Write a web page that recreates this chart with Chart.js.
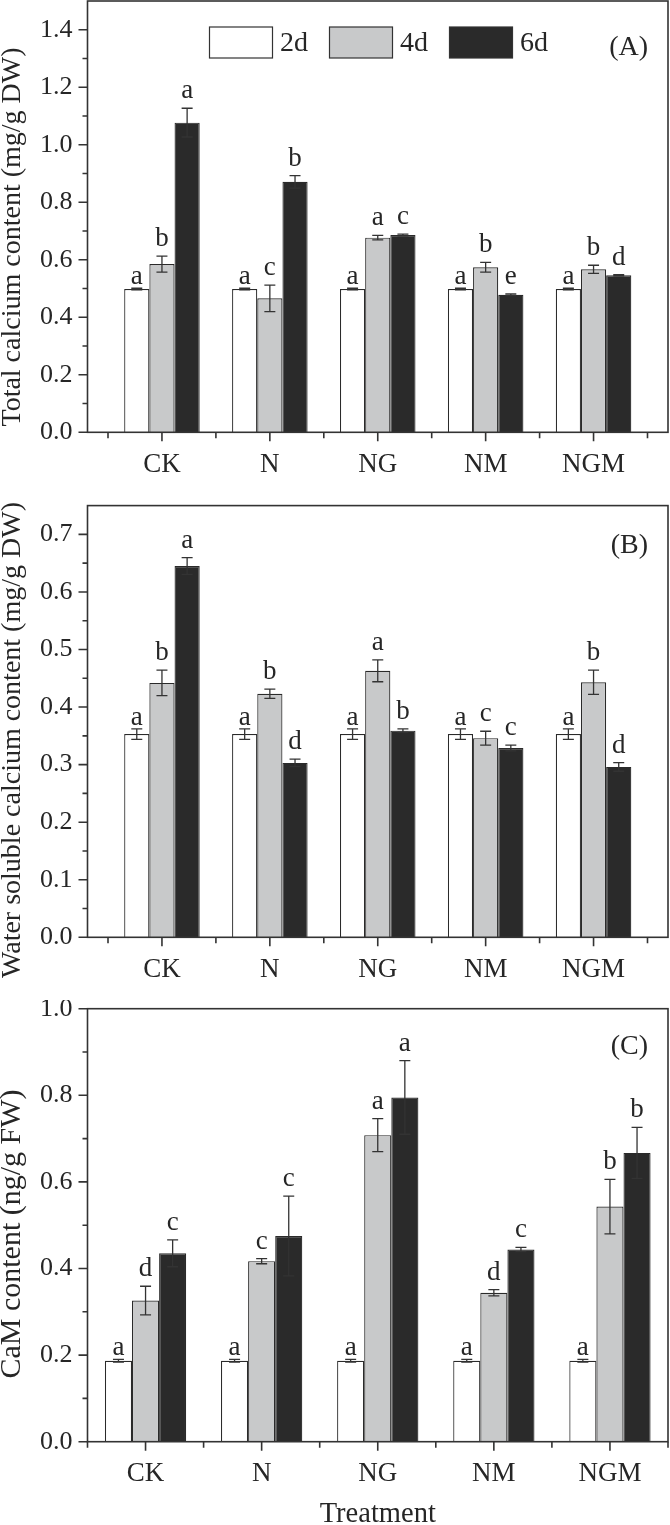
<!DOCTYPE html>
<html>
<head>
<meta charset="utf-8">
<script src="https://cdn.jsdelivr.net/npm/chart.js@4.4.1/dist/chart.umd.min.js"></script>
<style>
  body { margin: 0; background: #fff; width: 670px; height: 1525px; position: relative; overflow: hidden; }
  canvas { position: absolute; left: 0; }
</style>
</head>
<body>
<canvas id="chartA" width="670" height="500" style="top:0px"></canvas>
<canvas id="chartB" width="670" height="500" style="top:500px"></canvas>
<canvas id="chartC" width="670" height="525" style="top:1000px"></canvas>
<script>
// treatments and sampling days
const categories = ['CK', 'N', 'NG', 'NM', 'NGM'];
const seriesNames = ['2d', '4d', '6d'];

// (A) total calcium content, mg/g DW
const totalCa2d = [0.498, 0.498, 0.498, 0.498, 0.498];
const totalCa4d = [0.585, 0.466, 0.677, 0.574, 0.567];
const totalCa6d = [1.077, 0.871, 0.686, 0.478, 0.546];
const totalCaErr2d = [0.003, 0.003, 0.003, 0.003, 0.003];
const totalCaErr4d = [0.028, 0.046, 0.008, 0.017, 0.014];
const totalCaErr6d = [0.050, 0.022, 0.003, 0.003, 0.002];
const totalCaSig2d = ['a', 'a', 'a', 'a', 'a'];
const totalCaSig4d = ['b', 'c', 'a', 'b', 'b'];
const totalCaSig6d = ['a', 'b', 'c', 'e', 'd'];
const totalCaTicks = [0.0, 0.2, 0.4, 0.6, 0.8, 1.0, 1.2, 1.4];

// (B) water soluble calcium content, mg/g DW
const waterCa2d = [0.353, 0.353, 0.353, 0.353, 0.353];
const waterCa4d = [0.442, 0.423, 0.463, 0.346, 0.443];
const waterCa6d = [0.645, 0.303, 0.359, 0.329, 0.296];
const waterCaErr2d = [0.009, 0.009, 0.009, 0.009, 0.009];
const waterCaErr4d = [0.022, 0.008, 0.019, 0.012, 0.021];
const waterCaErr6d = [0.0145, 0.0065, 0.003, 0.005, 0.0075];
const waterCaSig2d = ['a', 'a', 'a', 'a', 'a'];
const waterCaSig4d = ['b', 'b', 'a', 'c', 'b'];
const waterCaSig6d = ['a', 'd', 'b', 'c', 'd'];
const waterCaTicks = [0.0, 0.1, 0.2, 0.3, 0.4, 0.5, 0.6, 0.7];

// (C) CaM content, ng/g FW
const cam2d = [0.187, 0.187, 0.187, 0.187, 0.187];
const cam4d = [0.326, 0.417, 0.708, 0.344, 0.543];
const cam6d = [0.435, 0.475, 0.795, 0.444, 0.667];
const camErr2d = [0.003, 0.003, 0.003, 0.003, 0.003];
const camErr4d = [0.033, 0.006, 0.038, 0.007, 0.063];
const camErr6d = [0.031, 0.092, 0.085, 0.005, 0.059];
const camSig2d = ['a', 'a', 'a', 'a', 'a'];
const camSig4d = ['d', 'c', 'a', 'd', 'b'];
const camSig6d = ['c', 'c', 'a', 'c', 'b'];
const camTicks = [0.0, 0.2, 0.4, 0.6, 0.8, 1.0];

const FONT = '"Liberation Serif", "Times New Roman", serif';
const INK = '#262626';
const barFills = ['#ffffff', '#c8c9ca', '#2a2a2a'];
const letterGap = [4, 10, 10];

// error bars + significance letters
const errorBars = {
  id: 'errorBars',
  afterDatasetsDraw(chart) {
    const ctx = chart.ctx, ys = chart.scales.y;
    chart.data.datasets.forEach((ds, di) => {
      chart.getDatasetMeta(di).data.forEach((bar, i) => {
        const v = ds.data[i].y, e = ds.errors[i];
        const top = ys.getPixelForValue(v + e), bot = ys.getPixelForValue(v - e);
        ctx.save();
        ctx.strokeStyle = '#333';
        ctx.lineWidth = 1.3;
        ctx.beginPath();
        ctx.moveTo(bar.x, top); ctx.lineTo(bar.x, bot);
        ctx.moveTo(bar.x - 5.5, top); ctx.lineTo(bar.x + 5.5, top);
        ctx.moveTo(bar.x - 5.5, bot); ctx.lineTo(bar.x + 5.5, bot);
        ctx.stroke();
        ctx.fillStyle = INK;
        ctx.font = '27px ' + FONT;
        ctx.textAlign = 'center';
        ctx.textBaseline = 'alphabetic';
        ctx.fillText(ds.letters[i], bar.x, top - letterGap[di]);
        ctx.restore();
      });
    });
  }
};

// frame, tick marks, y title, panel tag, legend
const frame = {
  id: 'frame',
  afterDraw(chart, args, opts) {
    const ctx = chart.ctx, a = chart.chartArea;
    const xs = chart.scales.x, ys = chart.scales.y;
    ctx.save();
    ctx.strokeStyle = '#333';
    ctx.lineWidth = 1.6;
    ctx.strokeRect(a.left, a.top, a.right - a.left, a.bottom - a.top);
    ctx.beginPath();
    ys.ticks.forEach(t => {
      const major = t.label !== '';
      if (!major && Math.abs(t.value - ys.max) < 1e-6) return;
      const py = ys.getPixelForValue(t.value);
      ctx.moveTo(a.left - (major ? 9 : 5), py); ctx.lineTo(a.left, py);
    });
    for (let i = 1; i <= categories.length; i++) {
      const px = xs.getPixelForValue(i);
      ctx.moveTo(px, a.bottom); ctx.lineTo(px, a.bottom + 9);
    }
    for (let i = 0; i <= categories.length; i++) {
      const v = i + 0.5;
      if (v < xs.min - 1e-6 || v > xs.max + 1e-6) continue;
      const px = xs.getPixelForValue(v);
      ctx.moveTo(px, a.bottom); ctx.lineTo(px, a.bottom + 6);
    }
    ctx.stroke();

    ctx.fillStyle = INK;
    // rotated y title
    ctx.save();
    ctx.translate(19.5, opts.titleMid);
    ctx.rotate(-Math.PI / 2);
    ctx.font = opts.titleSize + 'px ' + FONT;
    ctx.textAlign = 'center';
    ctx.textBaseline = 'alphabetic';
    ctx.fillText(opts.yTitle, 0, 0);
    ctx.restore();

    ctx.font = '28px ' + FONT;
    ctx.textAlign = 'right';
    ctx.textBaseline = 'alphabetic';
    ctx.fillText(opts.tag, a.right - 20, a.top + opts.tagDrop);

    if (opts.legend) {
      let lx = 209.5;
      const ly = 27, bw = 63, bh = 31;
      ctx.textAlign = 'left';
      ctx.textBaseline = 'middle';
      seriesNames.forEach((name, i) => {
        ctx.fillStyle = barFills[i];
        ctx.fillRect(lx, ly, bw, bh);
        ctx.lineWidth = 1.2;
        ctx.strokeRect(lx, ly, bw, bh);
        ctx.fillStyle = INK;
        ctx.fillText(name, lx + bw + 7.5, ly + bh / 2 + 1);
        lx += bw + 7.5 + ctx.measureText(name).width + 21.5;
      });
    }
    ctx.restore();
  }
};

function makePanel(id, p) {
  const minorStep = (p.ticks[1] - p.ticks[0]) / 2;
  const tickValues = [];
  for (let k = 0; k * minorStep <= p.yMax + 1e-9; k++) tickValues.push(Math.round(k * minorStep * 1000) / 1000);
  const datasets = seriesNames.map((name, s) => ({
    label: name,
    data: p.values[s].map((v, i) => ({ x: i + 1, y: v })),
    errors: p.errors[s],
    letters: p.letters[s],
    backgroundColor: barFills[s],
    borderColor: '#2a2a2a',
    borderWidth: 1.2,
    categoryPercentage: 0.7,
    barPercentage: 1.0
  }));
  return new Chart(document.getElementById(id), {
    type: 'bar',
    data: { datasets },
    options: {
      responsive: false,
      animation: false,
      layout: { padding: { top: p.top, right: 2, left: 0, bottom: 0 } },
      plugins: {
        legend: { display: false },
        tooltip: { enabled: false },
        frame: {
          tag: p.tag, tagDrop: p.tagDrop, legend: p.legend,
          yTitle: p.yTitle, titleMid: p.titleMid, titleSize: p.titleSize
        }
      },
      scales: {
        x: {
          type: 'linear',
          min: p.xMin, max: p.xMax,
          offset: false,
          afterBuildTicks: s => { s.ticks = categories.map((c, i) => ({ value: i + 1 })); },
          ticks: {
            autoSkip: false, maxRotation: 0, padding: 16, color: INK,
            font: { family: FONT, size: 27 },
            callback: v => categories[Math.round(v) - 1] || ''
          },
          grid: { display: false, drawTicks: false },
          border: { display: false },
          title: {
            display: !!p.xTitle, text: p.xTitle || '', color: INK,
            font: { family: FONT, size: 28.5, lineHeight: 1 }, padding: { top: 0, bottom: -4 }
          },
          afterFit: s => { s.height = p.xHeight; s.paddingLeft = 0; s.paddingRight = 0; }
        },
        y: {
          min: 0, max: p.yMax,
          afterBuildTicks: s => { s.ticks = tickValues.map(v => ({ value: v })); },
          ticks: {
            autoSkip: false, padding: 15, color: INK,
            font: { family: FONT, size: 26 },
            callback: v => p.ticks.some(m => Math.abs(m - v) < 1e-6) ? v.toFixed(1) : ''
          },
          grid: { display: false, drawTicks: false },
          border: { display: false },
          afterFit: s => { s.width = 87.5; s.paddingTop = 0; s.paddingBottom = 0; }
        }
      }
    },
    plugins: [errorBars, frame]
  });
}

makePanel('chartA', {
  values: [totalCa2d, totalCa4d, totalCa6d],
  errors: [totalCaErr2d, totalCaErr4d, totalCaErr6d],
  letters: [totalCaSig2d, totalCaSig4d, totalCaSig6d],
  ticks: totalCaTicks, yMax: 1.5, xMin: 0.31, xMax: 5.69,
  top: 1, xHeight: 67.7,
  yTitle: 'Total calcium content (mg/g DW)', titleMid: 237, titleSize: 28,
  tag: '(A)', tagDrop: 54, legend: true
});
makePanel('chartB', {
  values: [waterCa2d, waterCa4d, waterCa6d],
  errors: [waterCaErr2d, waterCaErr4d, waterCaErr6d],
  letters: [waterCaSig2d, waterCaSig4d, waterCaSig6d],
  ticks: waterCaTicks, yMax: 0.75, xMin: 0.31, xMax: 5.69,
  top: 5.6, xHeight: 62.7,
  yTitle: 'Water soluble calcium content (mg/g DW)', titleMid: 240, titleSize: 28,
  tag: '(B)', tagDrop: 47, legend: false
});
makePanel('chartC', {
  values: [cam2d, cam4d, cam6d],
  errors: [camErr2d, camErr4d, camErr6d],
  letters: [camSig2d, camSig4d, camSig6d],
  ticks: camTicks, yMax: 1.0, xMin: 0.5, xMax: 5.5,
  top: 8.7, xHeight: 83.3, xTitle: 'Treatment',
  yTitle: 'CaM content (ng/g FW)', titleMid: 234, titleSize: 30,
  tag: '(C)', tagDrop: 45, legend: false
});
</script>
</body>
</html>
